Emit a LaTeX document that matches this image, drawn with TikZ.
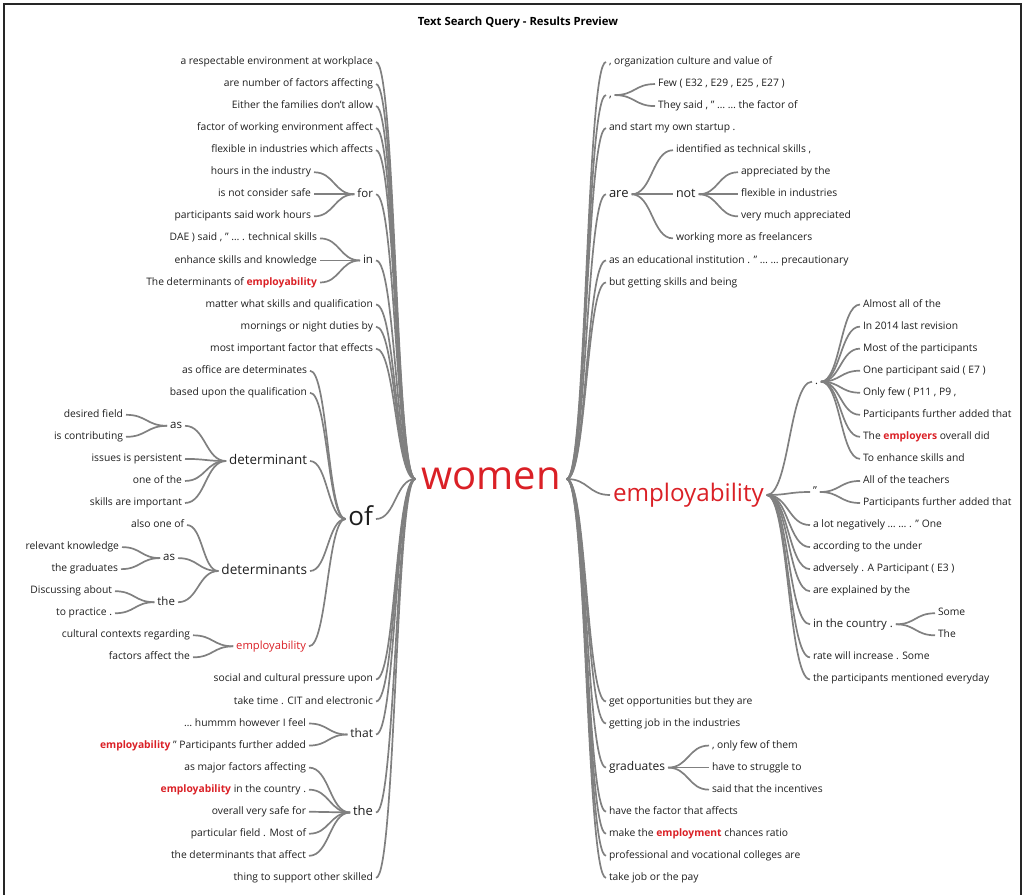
\documentclass[tikz,border=0pt]{standalone}
\usepackage{fontspec}
\setmainfont{Open Sans}
\usetikzlibrary{calc}
\definecolor{wred}{RGB}{218,32,38}
\definecolor{wtxt}{RGB}{30,30,30}
\definecolor{wline}{RGB}{128,128,128}
\newcommand\hl[1]{\textcolor{wred}{\bfseries #1}}
\tikzset{
  sz/.style={font=\fontsize{#1}{#1}\selectfont,
    /utils/exec={\pgfmathsetmacro\wTH{0.72*#1}\pgfmathsetmacro\wTD{0.22*#1}},
    text height=\wTH pt, text depth=\wTD pt},
  wt/.style={text=wtxt, inner xsep=3pt, inner ysep=0pt, outer sep=0pt},
  conn/.style={draw=wline, line width=1.7pt},
}
\newcommand\LN[5][10.3]{\node[wt, sz=#1, anchor=east, xshift=3pt] (#2) at (#3,#4) {#5};}
\newcommand\RN[5][10.3]{\node[wt, sz=#1, anchor=west, xshift=-3pt] (#2) at (#3,#4) {#5};}
\newcommand\lk[2]{\draw[conn] let \p1=(#1), \p2=(#2) in (\p1) .. controls ({0.5*\x1+0.5*\x2},\y1) and ({0.5*\x1+0.5*\x2},\y2) .. (\p2);}
\begin{document}
\begin{tikzpicture}[x=1pt,y=-1pt]
\useasboundingbox (0,0) rectangle (1025,894);
\draw[line width=1.2pt, black!85] (4,4) rectangle (1021,910);
\node[font=\fontsize{11.3}{13}\selectfont\bfseries, text=black] (title) at (518,22.5) {Text Search Query - Results Preview};
% centre
\node[wt, sz=40, text=wred, inner xsep=6pt] (women) at (491,479) {women};
% ---------- left side ----------
\LN{l0}{373}{62}{a respectable environment at workplace}
\LN{l1}{373}{84.05}{are number of factors affecting}
\LN{l2}{373}{106.1}{Either the families don't allow}
\LN{l3}{373}{128.15}{factor of working environment affect}
\LN{l4}{373}{150.2}{flexible in industries which affects}
\LN[11.5]{lfor}{373}{194.3}{for}
\LN{lfor1}{311}{172.25}{hours in the industry}
\LN{lfor2}{311}{194.3}{is not consider safe}
\LN{lfor3}{311}{216.35}{participants said work hours}
\LN[11.5]{lin}{373}{260.45}{in}
\LN{lin1}{317}{238.4}{DAE ) said , " … . technical skills}
\LN{lin2}{317}{260.45}{enhance skills and knowledge}
\LN{lin3}{317}{282.5}{The determinants of \hl{employability}}
\LN{l11}{373}{304.55}{matter what skills and qualification}
\LN{l12}{373}{326.6}{mornings or night duties by}
\LN{l13}{373}{348.65}{most important factor that effects}
\LN[26]{lof}{373}{519}{of}
\LN{lof1}{307}{370.7}{as office are determinates}
\LN{lof2}{307}{392.75}{based upon the qualification}
\LN[13.4]{ldet}{307}{461}{determinant}
\LN[11.5]{ldetas}{182}{425.8}{as}
\LN{ldetas1}{123}{414.8}{desired field}
\LN{ldetas2}{123}{436.85}{is contributing}
\LN{ldet2}{182}{458.9}{issues is persistent}
\LN{ldet3}{182}{480.95}{one of the}
\LN{ldet4}{182}{503}{skills are important}
\LN[13.6]{ldets}{307}{571}{determinants}
\LN{ldets1}{184}{525.05}{also one of}
\LN[11.5]{ldetsas}{175}{558.1}{as}
\LN{ldetsas1}{119}{547.1}{relevant knowledge}
\LN{ldetsas2}{118}{569.15}{the graduates}
\LN[11.5]{ldetsthe}{175}{602.2}{the}
\LN{ldetsthe1}{112}{591.2}{Discussing about}
\LN{ldetsthe2}{112}{613.25}{to practice .}
\LN[11.2]{lemp}{306}{646.3}{\textcolor{wred}{employability}}
\LN{lemp1}{190}{635.3}{cultural contexts regarding}
\LN{lemp2}{190}{657.35}{factors affect the}
\LN{l28}{373}{679.4}{social and cultural pressure upon}
\LN{l29}{373}{701.45}{take time . CIT and electronic}
\LN[12]{lthat}{373}{734.5}{that}
\LN{lthat1}{306}{723.5}{… hummm however I feel}
\LN{lthat2}{306}{745.55}{\hl{employability} " Participants further added}
\LN[13]{lthe}{373}{812.5}{the}
\LN{lthe1}{306}{767.6}{as major factors affecting}
\LN{lthe2}{306}{789.65}{\hl{employability} in the country .}
\LN{lthe3}{306}{811.7}{overall very safe for}
\LN{lthe4}{306}{833.75}{particular field . Most of}
\LN{lthe5}{306}{855.8}{the determinants that affect}
\LN{l37}{373}{877.85}{thing to support other skilled}
% left connectors
\foreach \w in {l0,l1,l2,l3,l4,lfor,lin,l11,l12,l13,lof,l28,l29,lthat,lthe,l37} {\lk{\w.east}{women.west}}
\foreach \w in {lfor1,lfor2,lfor3} {\lk{\w.east}{lfor.west}}
\foreach \w in {lin1,lin2,lin3} {\lk{\w.east}{lin.west}}
\foreach \w in {lof1,lof2,ldet,ldets,lemp} {\lk{\w.east}{lof.west}}
\foreach \w in {ldetas,ldet2,ldet3,ldet4} {\lk{\w.east}{ldet.west}}
\foreach \w in {ldetas1,ldetas2} {\lk{\w.east}{ldetas.west}}
\foreach \w in {ldets1,ldetsas,ldetsthe} {\lk{\w.east}{ldets.west}}
\foreach \w in {ldetsas1,ldetsas2} {\lk{\w.east}{ldetsas.west}}
\foreach \w in {ldetsthe1,ldetsthe2} {\lk{\w.east}{ldetsthe.west}}
\foreach \w in {lemp1,lemp2} {\lk{\w.east}{lemp.west}}
\foreach \w in {lthat1,lthat2} {\lk{\w.east}{lthat.west}}
\foreach \w in {lthe1,lthe2,lthe3,lthe4,lthe5} {\lk{\w.east}{lthe.west}}
% ---------- right side ----------
\RN{r0}{609}{62}{, organization culture and value of}
\RN[11]{rcom}{609}{95.1}{,}
\RN{rcom1}{658}{84.05}{Few ( E32 , E29 , E25 , E27 )}
\RN{rcom2}{658}{106.1}{They said , " … … the factor of}
\RN{r3}{609}{128.15}{and start my own startup .}
\RN[13]{rare}{609}{194.3}{are}
\RN{rare1}{676}{150.2}{identified as technical skills ,}
\RN[12.5]{rnot}{676}{194.3}{not}
\RN{rnot1}{741}{172.25}{appreciated by the}
\RN{rnot2}{741}{194.3}{flexible in industries}
\RN{rnot3}{741}{216.35}{very much appreciated}
\RN{rare3}{676}{238.4}{working more as freelancers}
\RN{r9}{609}{260.45}{as an educational institution . " … … precautionary}
\RN{r10}{609}{282.5}{but getting skills and being}
\RN[24.2]{remp}{613}{495}{\textcolor{wred}{employability}}
\RN[11]{rdot}{815}{381.7}{.}
\RN{rd1}{863}{304.55}{Almost all of the}
\RN{rd2}{863}{326.6}{In 2014 last revision}
\RN{rd3}{863}{348.65}{Most of the participants}
\RN{rd4}{863}{370.7}{One participant said ( E7 )}
\RN{rd5}{863}{392.75}{Only few ( P11 , P9 ,}
\RN{rd6}{863}{414.8}{Participants further added that}
\RN{rd7}{863}{436.85}{The \hl{employers} overall did}
\RN{rd8}{863}{458.9}{To enhance skills and}
\RN[11]{rq}{813}{492}{"}
\RN{rq1}{863}{480.95}{All of the teachers}
\RN{rq2}{863}{503}{Participants further added that}
\RN{re3}{813}{525.05}{a lot negatively … … . " One}
\RN{re4}{813}{547.1}{according to the under}
\RN{re5}{813}{569.15}{adversely . A Participant ( E3 )}
\RN{re6}{813}{591.2}{are explained by the}
\RN[11.4]{rcty}{813}{624.3}{in the country .}
\RN{rcty1}{938}{613.25}{Some}
\RN{rcty2}{938}{635.3}{The}
\RN{re8}{813}{657.35}{rate will increase . Some}
\RN{re9}{813}{679.4}{the participants mentioned everyday}
\RN{r29}{609}{701.45}{get opportunities but they are}
\RN{r30}{609}{723.5}{getting job in the industries}
\RN[12]{rgrad}{609}{767.6}{graduates}
\RN{rg1}{712}{745.55}{, only few of them}
\RN{rg2}{712}{767.6}{have to struggle to}
\RN{rg3}{712}{789.65}{said that the incentives}
\RN{r34}{609}{811.7}{have the factor that affects}
\RN{r35}{609}{833.75}{make the \hl{employment} chances ratio}
\RN{r36}{609}{855.8}{professional and vocational colleges are}
\RN{r37}{609}{877.85}{take job or the pay}
% right connectors
\foreach \w in {r0,rcom,r3,rare,r9,r10,remp,r29,r30,rgrad,r34,r35,r36,r37} {\lk{women.east}{\w.west}}
\foreach \w in {rcom1,rcom2} {\lk{rcom.east}{\w.west}}
\foreach \w in {rare1,rnot,rare3} {\lk{rare.east}{\w.west}}
\foreach \w in {rnot1,rnot2,rnot3} {\lk{rnot.east}{\w.west}}
\foreach \w in {rdot,rq,re3,re4,re5,re6,rcty,re8,re9} {\lk{remp.east}{\w.west}}
\foreach \w in {rd1,rd2,rd3,rd4,rd5,rd6,rd7,rd8} {\lk{rdot.east}{\w.west}}
\foreach \w in {rq1,rq2} {\lk{rq.east}{\w.west}}
\foreach \w in {rcty1,rcty2} {\lk{rcty.east}{\w.west}}
\foreach \w in {rg1,rg2,rg3} {\lk{rgrad.east}{\w.west}}
\end{tikzpicture}
\end{document}
